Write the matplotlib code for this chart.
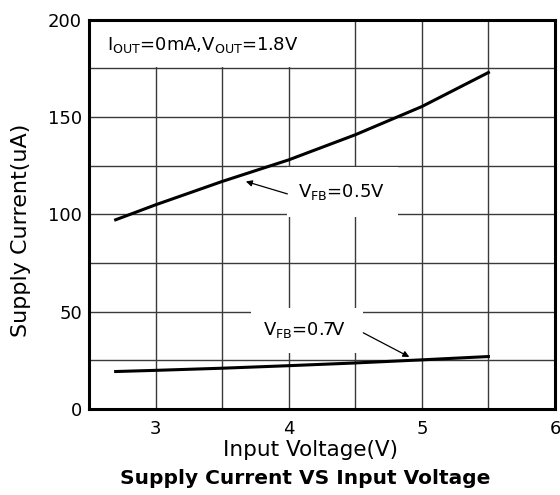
import numpy as np
import matplotlib
matplotlib.use("Agg")
import matplotlib.pyplot as plt
from matplotlib.patches import Rectangle

plt.rcParams['font.family'] = ['DejaVu Sans']

# data
vin_05 = [2.7, 3.0, 3.5, 4.0, 4.5, 5.0, 5.5]
icc_05 = [97.2, 104.9, 116.9, 128.0, 140.9, 155.4, 172.9]

vin_07 = [2.7, 3.0, 3.5, 4.0, 4.5, 5.0, 5.5]
icc_07 = [19.2, 19.8, 20.9, 22.2, 23.6, 25.2, 26.9]

xticks = [3, 4, 5, 6]
yticks = [0, 50, 100, 150, 200]

fig = plt.figure(figsize=(5.6, 4.95), dpi=100)
ax = fig.add_axes([0.159, 0.174, 0.832, 0.786])

ax.set_xlim(2.5, 6)
ax.set_ylim(0, 200)
ax.set_xticks(xticks)
ax.set_yticks(yticks)
ax.set_xticks(np.arange(2.5, 6.01, 0.5), minor=True)
ax.set_yticks(np.arange(0, 201, 25), minor=True)
ax.tick_params(which='both', length=0, labelsize=13)
ax.tick_params(axis='x', pad=8)
ax.tick_params(axis='y', pad=5)
ax.grid(which='both', color='#3a3a3a', lw=1.0)
ax.set_axisbelow(True)
for s in ax.spines.values():
    s.set_linewidth(2.2)
    s.set_zorder(6)

ax.plot(vin_05, icc_05, color='black', lw=2.2, zorder=4)
ax.plot(vin_07, icc_07, color='black', lw=2.2, zorder=4)

fig.text(0.555, 0.091, 'Input Voltage(V)', ha='center', va='center', fontsize=15.5)
fig.text(0.0375, 0.535, 'Supply Current(uA)', ha='center', va='center',
         rotation=90, fontsize=16)
fig.text(0.545, 0.034, 'Supply Current VS Input Voltage', ha='center',
         va='center', fontsize=14.5, fontweight='bold')

# white boxes that break the grid behind the labels
for x0, y0, w, h in [(2.5, 175.5, 1.55, 24.5), (3.99, 98.7, 0.83, 25.7),
                     (3.72, 28.8, 0.84, 23.1)]:
    ax.add_patch(Rectangle((x0, y0), w, h, facecolor='white', edgecolor='none',
                           zorder=2))

ax.text(2.635, 187, r'I$_\mathregular{OUT}$=0mA,V$_\mathregular{OUT}$=1.8V',
        fontsize=13, va='center', ha='left', zorder=3)
ax.text(4.07, 111.6, r'V$_\mathregular{FB}$=0.5V', fontsize=13,
        va='center', ha='left', zorder=3)
ax.text(3.81, 40.6, r'V$_\mathregular{FB}$=0.7V', fontsize=13,
        va='center', ha='left', zorder=3)

arrow = dict(arrowstyle='-|>', color='black', lw=0.9, mutation_scale=9,
             shrinkA=0, shrinkB=0)
ax.annotate('', xy=(3.678, 116.9), xytext=(3.99, 110.5), arrowprops=arrow, zorder=3)
ax.annotate('', xy=(4.906, 26.7), xytext=(4.56, 39.1), arrowprops=arrow, zorder=3)

fig.savefig('out.png', dpi=100)
